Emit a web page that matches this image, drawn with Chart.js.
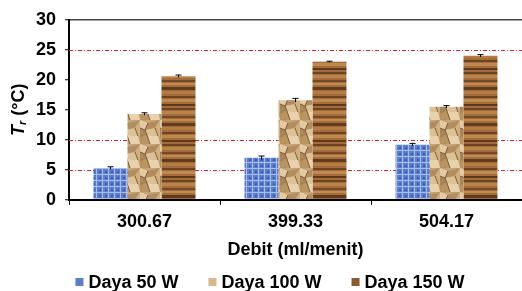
<!DOCTYPE html>
<html>
<head>
<meta charset="utf-8">
<script src="https://cdn.jsdelivr.net/npm/chart.js@4"></script>
<style>
  html, body { margin: 0; padding: 0; background: #fff; }
  #wrap { width: 522px; height: 291px; }
</style>
</head>
<body>
<div id="wrap"><canvas id="chart"></canvas></div>
<script>
const categories = ['300.67', '399.33', '504.17'];
const seriesNames = ['Daya 50 W', 'Daya 100 W', 'Daya 150 W'];
const daya50 = [5.3, 7.0, 9.2];
const daya100 = [14.3, 16.6, 15.5];
const daya150 = [20.6, 23.0, 24.0];
const err50 = [0.2, 0.3, 0.2];
const err100 = [0.2, 0.3, 0.2];
const err150 = [0.2, 0.1, 0.2];
const redLines = [5, 10, 25];

const FONT = "'Liberation Sans', Arial, sans-serif";
const canvas = document.getElementById('chart');
const ctx = canvas.getContext('2d');

// texture fills, roughly like the original picture fills
function bluePattern() {
  const c = document.createElement('canvas');
  c.width = 6; c.height = 6;
  const g = c.getContext('2d');
  g.fillStyle = '#5a7dcc'; g.fillRect(0, 0, 6, 6);
  g.fillStyle = '#a9bdec'; g.fillRect(0, 0, 6, 1); g.fillRect(0, 0, 1, 6);
  g.fillStyle = '#3e5fb0'; g.fillRect(3, 3, 2, 2);
  return ctx.createPattern(c, 'repeat');
}

function paperPattern() {
  const c = document.createElement('canvas');
  c.width = 20; c.height = 24;
  const g = c.getContext('2d');
  g.fillStyle = '#c7a274'; g.fillRect(0, 0, 20, 24);
  const shapes = [
    ['#e4cba5', [[0,0],[8,3],[5,10],[0,8]]],
    ['#b28d5f', [[8,3],[20,0],[15,8],[5,10]]],
    ['#dcc096', [[5,10],[15,8],[18,16],[7,15]]],
    ['#a98457', [[0,8],[5,10],[7,15],[0,18]]],
    ['#e8d2ae', [[7,15],[18,16],[20,24],[10,24]]],
    ['#b8945f', [[0,18],[7,15],[10,24],[0,24]]],
    ['#cfb080', [[15,8],[20,0],[20,16],[18,16]]]
  ];
  shapes.forEach(s => {
    g.fillStyle = s[0];
    g.beginPath();
    s[1].forEach((p, i) => i ? g.lineTo(p[0], p[1]) : g.moveTo(p[0], p[1]));
    g.closePath();
    g.fill();
  });
  g.strokeStyle = '#7e5e38';
  g.lineWidth = 1;
  g.beginPath();
  g.moveTo(8, 3); g.lineTo(5, 10); g.lineTo(7, 15); g.lineTo(10, 24);
  g.moveTo(15, 8); g.lineTo(18, 16);
  g.moveTo(0, 8); g.lineTo(5, 10);
  g.stroke();
  return ctx.createPattern(c, 'repeat');
}

function woodPattern() {
  const c = document.createElement('canvas');
  c.width = 4; c.height = 36;
  const g = c.getContext('2d');
  g.fillStyle = '#a36c3a'; g.fillRect(0, 0, 4, 36);
  const stripes = [
    [0, 2, '#6b4322'], [3, 3, '#bb844a'], [8, 2, '#74492a'], [11, 2, '#c28b50'],
    [15, 3, '#603b1e'], [19, 3, '#b47c44'], [24, 2, '#6e4524'], [27, 3, '#c08a4e'],
    [32, 2, '#5e3a1c']
  ];
  stripes.forEach(s => { g.fillStyle = s[2]; g.fillRect(0, s[0], 4, s[1]); });
  return ctx.createPattern(c, 'repeat');
}

const legendColors = ['#5a7dcc', '#d6b88c', '#8a5a30'];

const errorBars = {
  id: 'errorBars',
  afterDatasetsDraw(chart) {
    const c = chart.ctx;
    const y = chart.scales.y;
    c.save();
    c.strokeStyle = '#000';
    c.lineWidth = 1;
    chart.data.datasets.forEach((ds, di) => {
      const meta = chart.getDatasetMeta(di);
      meta.data.forEach((bar, i) => {
        const v = ds.data[i], e = ds.errors[i];
        const top = y.getPixelForValue(v + e);
        const bot = y.getPixelForValue(v - e);
        c.beginPath();
        c.moveTo(bar.x, top); c.lineTo(bar.x, bot);
        c.moveTo(bar.x - 3, top); c.lineTo(bar.x + 3, top);
        c.stroke();
      });
    });
    c.restore();
  }
};

const redGrid = {
  id: 'redGrid',
  beforeDatasetsDraw(chart) {
    const c = chart.ctx;
    const a = chart.chartArea;
    const y = chart.scales.y;
    c.save();
    c.strokeStyle = '#e0202c';
    c.lineWidth = 1;
    c.setLineDash([4, 2, 1, 2]);
    redLines.forEach(v => {
      const py = Math.round(y.getPixelForValue(v)) + 0.5;
      c.beginPath();
      c.moveTo(a.left, py); c.lineTo(a.right, py);
      c.stroke();
    });
    c.restore();
  }
};

// y title with subscript, plus the legend row under the x title
const extras = {
  id: 'extras',
  afterDraw(chart) {
    const c = chart.ctx;
    const a = chart.chartArea;
    c.save();
    c.fillStyle = '#000';
    c.textBaseline = 'middle';

    c.save();
    c.translate(19, (a.top + a.bottom) / 2);
    c.rotate(-Math.PI / 2);
    const parts = [
      ['T', 'italic bold 18px ' + FONT, 0],
      ['r', 'italic bold 11px ' + FONT, 4],
      [' (°C)', 'bold 18px ' + FONT, 0]
    ];
    let total = 0;
    parts.forEach(p => { c.font = p[1]; total += c.measureText(p[0]).width; });
    let x = -total / 2;
    parts.forEach(p => {
      c.font = p[1];
      c.fillText(p[0], x, p[2]);
      x += c.measureText(p[0]).width;
    });
    c.restore();

    c.font = 'bold 18px ' + FONT;
    const box = 8, boxGap = 5, itemGap = 30;
    const widths = seriesNames.map(s => box + boxGap + c.measureText(s).width);
    const full = widths.reduce((s, w) => s + w, 0) + itemGap * (seriesNames.length - 1);
    let lx = 270 - full / 2;
    const ly = 282;
    seriesNames.forEach((s, i) => {
      c.fillStyle = legendColors[i];
      c.fillRect(lx, ly - box / 2, box, box);
      c.fillStyle = '#000';
      c.fillText(s, lx + box + boxGap, ly + 1);
      lx += widths[i] + itemGap;
    });
    c.restore();
  }
};

new Chart(ctx, {
  type: 'bar',
  data: {
    labels: categories,
    datasets: [
      { label: seriesNames[0], data: daya50, errors: err50, backgroundColor: bluePattern() },
      { label: seriesNames[1], data: daya100, errors: err100, backgroundColor: paperPattern() },
      { label: seriesNames[2], data: daya150, errors: err150, backgroundColor: woodPattern() }
    ]
  },
  options: {
    responsive: true,
    maintainAspectRatio: false,
    animation: false,
    categoryPercentage: 0.675,
    barPercentage: 1,
    layout: { padding: { left: 27, top: 3, right: 0, bottom: 30 } },
    scales: {
      x: {
        border: { color: '#000', width: 2 },
        grid: { drawOnChartArea: false, tickLength: 5, tickColor: '#000', tickWidth: 1 },
        ticks: { color: '#000', font: { family: FONT, size: 18, weight: 'bold' }, padding: 6 },
        title: { display: true, text: 'Debit (ml/menit)', color: '#000',
                 font: { family: FONT, size: 18, weight: 'bold' }, padding: { top: 1, bottom: 0 } }
      },
      y: {
        min: 0, max: 30,
        border: { color: '#000', width: 2 },
        grid: {
          color: c => c.tick && c.tick.value === 30 ? '#444' : 'rgba(0,0,0,0)',
          lineWidth: 1.5,
          tickLength: 4, tickColor: '#000', tickWidth: 1
        },
        ticks: { stepSize: 5, color: '#000', font: { family: FONT, size: 18, weight: 'bold' }, padding: 9 }
      }
    },
    plugins: {
      legend: { display: false },
      tooltip: { enabled: false }
    }
  },
  plugins: [redGrid, errorBars, extras]
});
</script>
</body>
</html>
